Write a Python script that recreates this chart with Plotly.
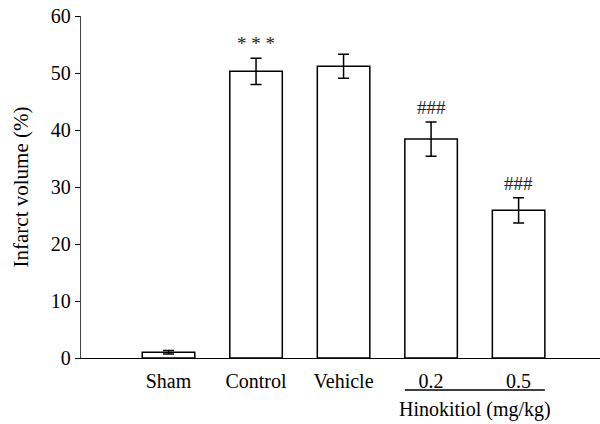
import plotly.graph_objects as go

categories = ["Sham", "Control", "Vehicle", "0.2", "0.5"]
values = [1.0, 50.3, 51.2, 38.4, 25.9]
errors = [0.3, 2.3, 2.1, 3.0, 2.2]
marks = ["", "* * *", "", "###", "###"]
yticks = [0, 10, 20, 30, 40, 50, 60]

FONT = "Liberation Serif"
x = list(range(len(categories)))

fig = go.Figure()
fig.add_trace(go.Bar(
    x=x, y=values, width=0.6,
    marker=dict(color="white", line=dict(color="black", width=1.5)),
    error_y=dict(type="data", array=errors, visible=True, color="black",
                 thickness=1.5, width=5.5),
    showlegend=False,
))

for xi, v, e, m in zip(x, values, errors, marks):
    if m:
        fig.add_annotation(x=xi, y=v + e, text=m, showarrow=False,
                           yanchor="bottom", yshift=2,
                           font=dict(family=FONT, size=19, color="#222"))

# group underline and label
fig.add_shape(type="line", xref="x", yref="paper", x0=2.7, x1=4.3,
              y0=-0.0936, y1=-0.0936, line=dict(color="black", width=1.3))
fig.add_annotation(x=3.5, xref="x", y=-0.152, yref="paper", text="Hinokitiol (mg/kg)",
                   showarrow=False, yanchor="middle",
                   font=dict(family=FONT, size=20, color="black"))

fig.update_layout(
    width=600, height=424,
    margin=dict(l=81, r=0, t=16, b=66),
    plot_bgcolor="white", paper_bgcolor="white",
    font=dict(family=FONT, size=20, color="black"),
    bargap=0.4,
)
fig.update_xaxes(
    tickmode="array", tickvals=x, ticktext=categories,
    range=[-1.0, 4.93], showline=True, linecolor="black", linewidth=1.3,
    showgrid=False, zeroline=False, ticks="", ticklabelstandoff=5,
    automargin=False,
)
fig.update_yaxes(
    range=[0, 60], tickvals=yticks, showline=True, linecolor="#444", linewidth=1.3,
    ticks="outside", ticklen=5, tickcolor="black", tickwidth=1.3,
    showgrid=False, zeroline=False, automargin=False,
    title=dict(text="Infarct volume (%)", font=dict(family=FONT, size=21), standoff=16),
)

fig.write_html("out.html", config={"displayModeBar": False},
               post_script="document.body.style.margin='0';document.body.style.overflow='hidden';")
